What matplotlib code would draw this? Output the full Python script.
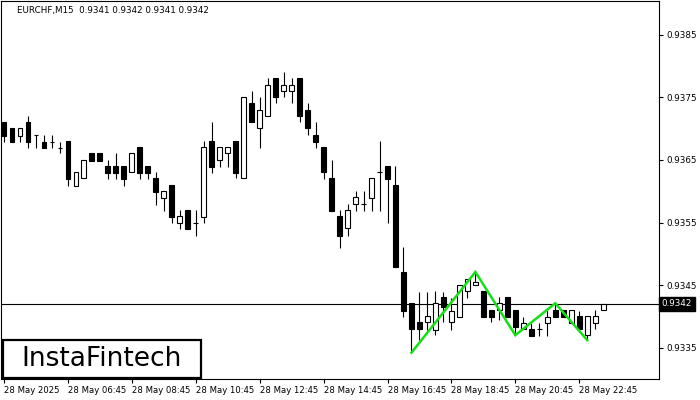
import matplotlib
matplotlib.use("Agg")
import matplotlib.pyplot as plt
from matplotlib.patches import Rectangle

# ---- data (EURCHF M15, 28 May 2025) ----
opens = [0.93711, 0.93701, 0.93689, 0.93711, 0.93690, 0.93679, 0.93679, 0.93669, 0.93680, 0.93608,
         0.93621, 0.93661, 0.93661, 0.93641, 0.93641, 0.93641, 0.93631, 0.93671, 0.93641, 0.93621,
         0.93589, 0.93610, 0.93549, 0.93570, 0.93549, 0.93559, 0.93680, 0.93650, 0.93661, 0.93680,
         0.93621, 0.93741, 0.93701, 0.93720, 0.93781, 0.93760, 0.93760, 0.93781, 0.93730, 0.93690,
         0.93671, 0.93621, 0.93561, 0.93541, 0.93580, 0.93580, 0.93589, 0.93631, 0.93641, 0.93610,
         0.93471, 0.93421, 0.93391, 0.93391, 0.93378, 0.93431, 0.93391, 0.93399, 0.93441, 0.93450,
         0.93441, 0.93410, 0.93410, 0.93431, 0.93410, 0.93380, 0.93380, 0.93380, 0.93389, 0.93410,
         0.93410, 0.93389, 0.93401, 0.93370, 0.93389, 0.93410]
highs = [0.93711, 0.93701, 0.93701, 0.93720, 0.93690, 0.93690, 0.93690, 0.93679, 0.93680, 0.93631,
         0.93650, 0.93661, 0.93661, 0.93650, 0.93661, 0.93641, 0.93661, 0.93671, 0.93641, 0.93631,
         0.93601, 0.93610, 0.93570, 0.93570, 0.93570, 0.93680, 0.93711, 0.93671, 0.93671, 0.93680,
         0.93751, 0.93760, 0.93751, 0.93781, 0.93781, 0.93791, 0.93781, 0.93781, 0.93741, 0.93711,
         0.93671, 0.93650, 0.93570, 0.93580, 0.93601, 0.93601, 0.93621, 0.93680, 0.93641, 0.93641,
         0.93511, 0.93421, 0.93439, 0.93439, 0.93441, 0.93439, 0.93429, 0.93450, 0.93460, 0.93471,
         0.93441, 0.93410, 0.93431, 0.93431, 0.93410, 0.93399, 0.93389, 0.93389, 0.93410, 0.93421,
         0.93410, 0.93410, 0.93409, 0.93401, 0.93410, 0.93420]
lows = [0.93679, 0.93679, 0.93679, 0.93669, 0.93669, 0.93669, 0.93669, 0.93661, 0.93608, 0.93608,
        0.93621, 0.93648, 0.93648, 0.93620, 0.93620, 0.93608, 0.93631, 0.93620, 0.93620, 0.93578,
        0.93569, 0.93549, 0.93540, 0.93540, 0.93529, 0.93549, 0.93629, 0.93639, 0.93639, 0.93621,
        0.93621, 0.93711, 0.93669, 0.93720, 0.93741, 0.93751, 0.93741, 0.93711, 0.93690, 0.93669,
        0.93620, 0.93569, 0.93509, 0.93529, 0.93569, 0.93569, 0.93569, 0.93569, 0.93549, 0.93479,
        0.93399, 0.93342, 0.93362, 0.93378, 0.93370, 0.93391, 0.93378, 0.93399, 0.93429, 0.93450,
        0.93399, 0.93391, 0.93394, 0.93399, 0.93370, 0.93380, 0.93369, 0.93369, 0.93369, 0.93399,
        0.93399, 0.93389, 0.93380, 0.93362, 0.93380, 0.93410]
closes = [0.93689, 0.93679, 0.93701, 0.93679, 0.93690, 0.93669, 0.93679, 0.93669, 0.93620, 0.93631,
          0.93650, 0.93648, 0.93648, 0.93629, 0.93629, 0.93620, 0.93661, 0.93629, 0.93629, 0.93599,
          0.93601, 0.93559, 0.93561, 0.93540, 0.93549, 0.93671, 0.93639, 0.93671, 0.93671, 0.93629,
          0.93751, 0.93711, 0.93730, 0.93770, 0.93751, 0.93770, 0.93770, 0.93720, 0.93701, 0.93679,
          0.93631, 0.93569, 0.93529, 0.93570, 0.93591, 0.93580, 0.93621, 0.93631, 0.93620, 0.93479,
          0.93409, 0.93380, 0.93380, 0.93401, 0.93421, 0.93415, 0.93409, 0.93450, 0.93460, 0.93455,
          0.93399, 0.93399, 0.93421, 0.93399, 0.93383, 0.93389, 0.93369, 0.93380, 0.93399, 0.93399,
          0.93399, 0.93410, 0.93380, 0.93401, 0.93401, 0.93420]

pattern_idx = [51, 59, 64, 69, 73]
pattern_price = [0.93342, 0.93471, 0.93370, 0.93421, 0.93362]

y_ticks = [0.9335, 0.9345, 0.9355, 0.9365, 0.9375, 0.9385]
x_tick_idx = [0, 8, 16, 24, 32, 40, 48, 56, 64, 72]
x_tick_labels = ["28 May 2025", "28 May 06:45", "28 May 08:45", "28 May 10:45", "28 May 12:45",
                 "28 May 14:45", "28 May 16:45", "28 May 18:45", "28 May 20:45", "28 May 22:45"]
last_price = 0.9342
header = "EURCHF,M15  0.9341 0.9342 0.9341 0.9342"

# ---- figure ----
fig = plt.figure(figsize=(7, 4), dpi=100)
ax = fig.add_axes([1 / 700, 21 / 400, 658 / 700, 378 / 400])
ax.set_xlim(-0.375, 81.98)
ax.set_ylim(0.93300, 0.93904)

body_w = 0.6
for i, (o, h, l, c) in enumerate(zip(opens, highs, lows, closes)):
    ax.vlines(i, l, h, color="black", linewidth=0.8, zorder=2)
    if abs(c - o) < 1e-7:
        ax.hlines(o, i - body_w / 2, i + body_w / 2, color="black", linewidth=0.8, zorder=3)
    else:
        bottom = min(o, c)
        height = abs(c - o)
        face = "white" if c > o else "black"
        ax.add_patch(Rectangle((i - body_w / 2, bottom), body_w, height,
                               facecolor=face, edgecolor="black", linewidth=0.8, zorder=3))

# current price line
ax.axhline(last_price, color="black", linewidth=0.8, zorder=1)

# pattern
ax.plot(pattern_idx, pattern_price, color="#14e014", linewidth=1.8, zorder=4,
        solid_joinstyle="miter")

# axes styling
for s in ax.spines.values():
    s.set_color("black")
    s.set_linewidth(0.8)
ax.yaxis.tick_right()
ax.set_yticks(y_ticks)
ax.set_yticklabels([f"{v:.4f}" for v in y_ticks])
ax.tick_params(axis="y", direction="out", length=3, width=0.8, labelsize=6.3, pad=2,
               colors="black")
ax.set_xticks(x_tick_idx)
ax.set_xticklabels(x_tick_labels, ha="left")
ax.tick_params(axis="x", direction="out", length=3, width=0.8, labelsize=6.1, pad=2,
               colors="black")
for lbl in ax.get_xticklabels():
    lbl.set_horizontalalignment("left")

# price tag
ax.text(1.004, last_price, f"{last_price:.4f}", transform=ax.get_yaxis_transform(),
        ha="left", va="center", fontsize=6.3, color="white",
        bbox=dict(boxstyle="square,pad=0.3", facecolor="black", edgecolor="black"))

# header
fig.text(17 / 700, 1 - 11 / 400, header, ha="left", va="center", fontsize=6.3, color="black")

# logo
fig.patches.append(Rectangle((3 / 700, 1 - 378 / 400), 198 / 700, 38 / 400,
                             transform=fig.transFigure, facecolor="white",
                             edgecolor="black", linewidth=1.6, zorder=10))
fig.text(102 / 700, 1 - 359 / 400, "InstaFintech", ha="center", va="center",
         fontsize=19, color="black", zorder=11)

fig.savefig("out.png", dpi=100)
